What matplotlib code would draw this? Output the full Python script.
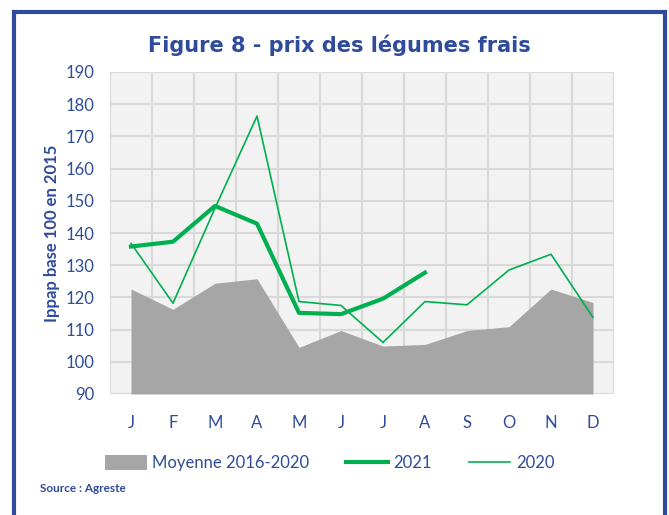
import matplotlib.pyplot as plt
from matplotlib.patches import Rectangle
from matplotlib.lines import Line2D
from matplotlib.patches import Patch

months = ["J", "F", "M", "A", "M", "J", "J", "A", "S", "O", "N", "D"]
moyenne = [122.6, 116.3, 124.4, 125.8, 104.5, 109.7, 104.9, 105.4, 109.7, 110.9, 122.6, 118.4]
y2021 = [135.8, 137.3, 148.4, 142.9, 115.2, 114.8, 119.6, 127.7]
y2020 = [136.8, 118.2, 147.7, 176.3, 118.7, 117.5, 106.0, 118.7, 117.7, 128.5, 133.4, 113.8]
yticks = list(range(90, 191, 10))

BLUE = "#2f4b9b"
GREEN = "#00b050"
GREY = "#a6a6a6"

plt.rcParams["font.family"] = ["Lato", "DejaVu Sans"]

fig = plt.figure(figsize=(6.69, 5.15), dpi=100)
fig.patch.set_facecolor("white")

# blue frame around the chart
fig.patches.append(Rectangle((14 / 669, -0.05), 651 / 669, 1.05 - 12 / 515,
                             transform=fig.transFigure, fill=False,
                             edgecolor=BLUE, linewidth=3))

ax = fig.add_axes([110 / 669, 1 - 394 / 515, 504 / 669, 322 / 515])
ax.set_facecolor("#f2f2f2")

x = list(range(len(months)))
ax.fill_between(x, 90, moyenne, color=GREY, linewidth=0, zorder=2)
ax.plot(x[:len(y2021)], y2021, color=GREEN, linewidth=3, zorder=4)
ax.plot(x, y2020, color=GREEN, linewidth=1.2, zorder=3)

ax.set_xlim(-0.5, 11.5)
ax.set_ylim(90, 190)
ax.set_yticks(yticks)
ax.set_xticks(x)
ax.set_xticklabels(months)
ax.set_xticks([i + 0.5 for i in range(-1, 12)], minor=True)
ax.grid(True, which="minor", axis="x", color="#d9d9d9", linewidth=1.5, zorder=1)
ax.grid(True, which="major", axis="y", color="#d9d9d9", linewidth=1.5, zorder=1)
ax.set_axisbelow(True)
for s in ax.spines.values():
    s.set_visible(False)
ax.tick_params(axis="both", which="both", length=0, colors=BLUE, labelsize=12)
ax.tick_params(axis="x", pad=15)
ax.tick_params(axis="y", pad=11)

ax.set_ylabel("Ippap base 100 en 2015", color=BLUE, fontsize=12,
              fontweight="bold", labelpad=4)

fig.text(0.508, 1 - 45 / 515, "Figure 8 - prix des légumes frais", ha="center",
         va="center", color=BLUE, fontsize=15, fontweight="bold",
         family="DejaVu Sans")

handles = [Patch(facecolor=GREY, edgecolor="none"),
           Line2D([], [], color=GREEN, linewidth=3),
           Line2D([], [], color=GREEN, linewidth=1.2)]
fig.legend(handles, ["Moyenne 2016-2020", "2021", "2020"], loc="center",
           bbox_to_anchor=(0.493, 1 - 463 / 515), ncol=3, frameon=False,
           fontsize=12, labelcolor=BLUE, handlelength=2.5, columnspacing=2.2,
           handletextpad=0.35, handleheight=1.0)

fig.text(40 / 669, 1 - 489 / 515, "Source : Agreste", ha="left", va="center",
         color=BLUE, fontsize=8.5, fontweight="bold")

fig.savefig("out.png", dpi=100)
